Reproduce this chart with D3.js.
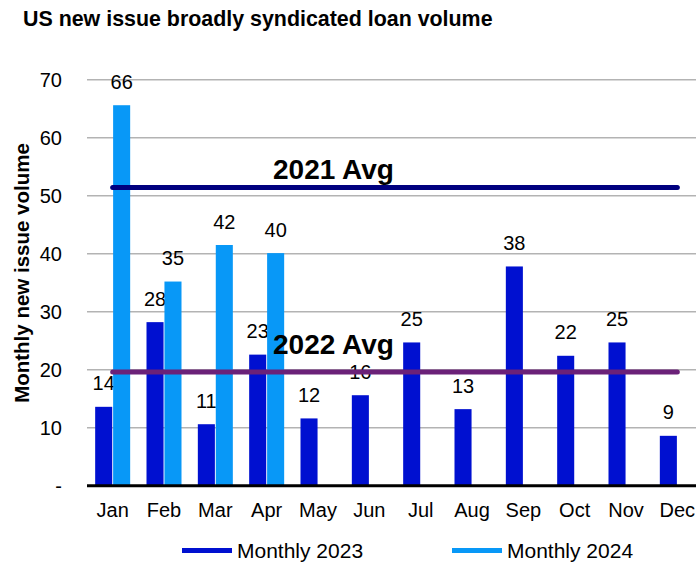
<!DOCTYPE html>
<html><head><meta charset="utf-8">
<script src="https://cdn.jsdelivr.net/npm/d3@7"></script>
<style>body{margin:0;background:#fff}svg{display:block;font-family:"Liberation Sans",Arial,sans-serif}</style>
</head><body><svg id="c" width="696" height="563"></svg>
<script>
const months = ["Jan","Feb","Mar","Apr","May","Jun","Jul","Aug","Sep","Oct","Nov","Dec"];
const monthly2023 = [13.6,28.2,10.6,22.6,11.6,15.6,24.7,13.2,37.8,22.4,24.7,8.6];
const monthly2024 = [65.6,35.2,41.5,40.1,null,null,null,null,null,null,null,null];
const avgNames = ["2021 Avg","2022 Avg"];
const avgValues = [51.4,19.6];
const yTicks = [0,10,20,30,40,50,60,70];
const seriesNames = ["Monthly 2023","Monthly 2024"];
const colors = ["#0010D0","#0898F7"];
const avgColors = ["#00007F","#6B2178"];
const avgLabelOffset = [8.5,18];

const svg = d3.select("#c");
const x = d3.scaleBand().domain(months).range([87,703]);
const y = d3.scaleLinear().domain([0,70]).range([485.7,79.7]);
const sub = d3.scaleBand().domain([0,1]).range([-17.5,17.5]).paddingInner(0.05);
const FF = "Liberation Sans, Arial, sans-serif";

svg.append("text").attr("x",23).attr("y",25.5).attr("font-size",21.4).attr("font-weight","bold").text("US new issue broadly syndicated loan volume");

// gridlines
svg.append("g").selectAll("line").data(yTicks.filter(d=>d>0)).join("line")
  .attr("x1",87).attr("x2",703).attr("y1",d=>y(d)).attr("y2",d=>y(d))
  .attr("stroke","#b3b3b3").attr("stroke-width",1.5);

// y axis labels
const yAxis = svg.append("g").attr("transform","translate(87,0)")
  .call(d3.axisLeft(y).tickValues(yTicks).tickSize(0).tickPadding(25).tickFormat(d=>d===0?"-":d));
yAxis.select(".domain").remove();
yAxis.selectAll("text").attr("font-size",20).attr("font-family",FF).attr("fill","#000");

svg.append("text").attr("transform","translate(29,273) rotate(-90)").attr("text-anchor","middle")
  .attr("font-size",20.5).attr("font-weight","bold").text("Monthly new issue volume");

// bars
const series = [monthly2023, monthly2024];
series.forEach((vals,si)=>{
  const data = months.map((m,i)=>({m,v:vals[i]})).filter(d=>d.v!=null);
  svg.append("g").selectAll("rect").data(data).join("rect")
    .attr("x",d=>x(d.m)+x.bandwidth()/2+sub(si))
    .attr("width",sub.bandwidth())
    .attr("y",d=>y(d.v)).attr("height",d=>y(0)-y(d.v))
    .attr("fill",colors[si]);
  svg.append("g").selectAll("text").data(data).join("text")
    .attr("x",d=>x(d.m)+x.bandwidth()/2+sub(si)+sub.bandwidth()/2)
    .attr("y",d=>y(d.v)-16.5).attr("text-anchor","middle").attr("font-size",20)
    .text(d=>Math.round(d.v));
});

// baseline
svg.append("line").attr("x1",87).attr("x2",703).attr("y1",y(0)).attr("y2",y(0)).attr("stroke","#000").attr("stroke-width",3);

// x axis labels
const xAxis = svg.append("g").attr("transform",`translate(0,${y(0)})`)
  .call(d3.axisBottom(x).tickSize(0).tickPadding(17));
xAxis.select(".domain").remove();
xAxis.selectAll("text").attr("font-size",20).attr("font-family",FF).attr("fill","#000");

// average lines
avgValues.forEach((v,i)=>{
  svg.append("line").attr("x1",x("Jan")+x.bandwidth()/2).attr("x2",x("Dec")+x.bandwidth()/2)
    .attr("y1",y(v)).attr("y2",y(v)).attr("stroke",avgColors[i]).attr("stroke-width",5).attr("stroke-linecap","round");
  svg.append("text").attr("x",333.5).attr("y",y(v)-avgLabelOffset[i]).attr("text-anchor","middle")
    .attr("font-size",28).attr("font-weight","bold").text(avgNames[i]);
});

// legend
const lx = [182,452];
seriesNames.forEach((n,i)=>{
  svg.append("rect").attr("x",lx[i]).attr("y",548).attr("width",50).attr("height",5).attr("fill",colors[i]);
  svg.append("text").attr("x",lx[i]+55).attr("y",558).attr("font-size",21).text(n);
});
</script></body></html>
